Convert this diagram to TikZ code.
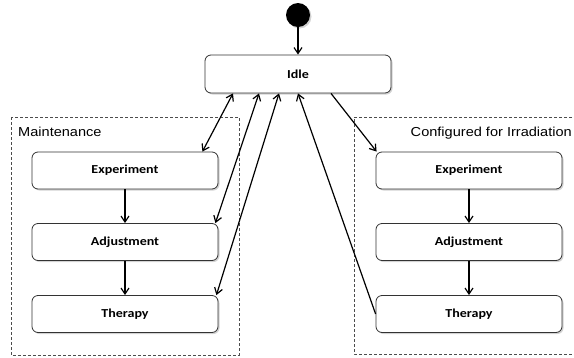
\documentclass[tikz,border=0pt]{standalone}
\usepackage{fontspec}
\newfontfamily\boxfont[FakeStretch=1.15]{Carlito}
\newfontfamily\labelfont[FakeStretch=1.12]{Liberation Sans}
\usetikzlibrary{arrows.meta,positioning,calc,shadows}

\begin{document}
\begin{tikzpicture}[
    x=1pt, y=-1pt,
    statebox/.style={
        draw=black!80, fill=white,
        rounded corners=6pt,
        line width=0.8pt,
        inner sep=0pt,
        minimum width=186pt,
        minimum height=37pt,
        font=\boxfont\bfseries\fontsize{12.2}{14}\selectfont,
        drop shadow={shadow xshift=1.5pt, shadow yshift=-1.5pt,
                     opacity=0.35}
    },
    frame/.style={draw=black!70, line width=0.7pt,
        dash pattern=on 3pt off 2pt},
    framelabel/.style={inner sep=0pt,
        font=\labelfont\fontsize{13}{15}\selectfont},
    trans/.style={line width=1.2pt, -{Straight Barb[length=6pt,width=8pt]}},
    both/.style={line width=1.2pt,
        {Straight Barb[length=6pt,width=8pt]}-{Straight Barb[length=6pt,width=8pt]}}
]
\useasboundingbox (0,0) rectangle (574,357);

% frames
\draw[frame] (11,117) rectangle (239,355);
\node[framelabel, anchor=base west] (maint) at (18,136) {Maintenance};
\draw[frame] (577,117) -- (354,117) -- (354,354) -- (577,354);
\node[framelabel, anchor=base east] (conf) at (572,136) {Configured for Irradiation};

% initial state and idle
\node[circle, fill=black, minimum size=24pt, inner sep=0pt,
      drop shadow={shadow xshift=1.5pt, shadow yshift=-1.5pt, opacity=0.35}]
      (init) at (298,15) {};
\node[statebox, minimum height=38pt] (idle) at (298,74) {Idle};

% left column
\node[statebox] (expL) at (125,170.5) {Experiment};
\node[statebox] (adjL) at (125,242) {Adjustment};
\node[statebox] (thrL) at (125,314) {Therapy};

% right column
\node[statebox] (expR) at (469,170.5) {Experiment};
\node[statebox] (adjR) at (469,242) {Adjustment};
\node[statebox] (thrR) at (469,314) {Therapy};

% transitions
\draw[trans] (init) -- (idle);
\draw[trans] (expL) -- (adjL);
\draw[trans] (adjL) -- (thrL);
\draw[trans] (expR) -- (adjR);
\draw[trans] (adjR) -- (thrR);

\draw[both] ($(idle.south)+(-65,0)$) -- ($(expL.north east)+(-16,0)$);
\draw[both] ($(idle.south)+(-39,0)$) -- ($(adjL.north east)+(-3,0)$);
\draw[both] ($(idle.south)+(-19,0)$) -- ($(thrL.north east)+(-2,0)$);
\draw[trans] (thrR.west) -- (idle.south);
\draw[trans] ($(idle.south)+(33,0)$) -- ($(expR.north west)+(1,0)$);
\end{tikzpicture}
\end{document}
